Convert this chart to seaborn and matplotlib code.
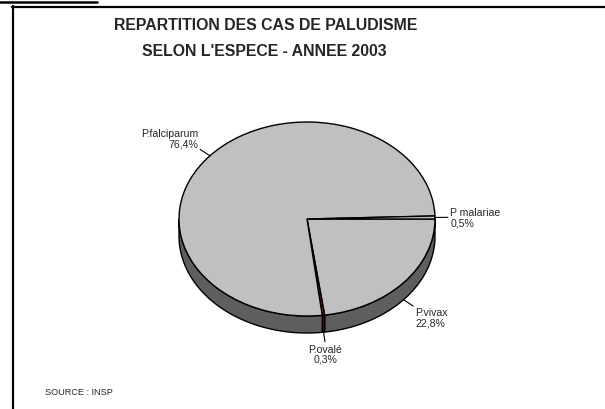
import numpy as np
import matplotlib.pyplot as plt
import seaborn as sns
from matplotlib.patches import Polygon
from matplotlib.lines import Line2D

# Data (clockwise from 3 o'clock)
species = ["P.vivax", "P.ovalé", "P.falciparum", "P malariae"]
shares = [22.8, 0.3, 76.4, 0.5]
top_colors = ["#C0C0C0", "#8A2412", "#C0C0C0", "#C0C0C0"]
side_colors = ["#5E5E5E", "#3A0C06", "#5E5E5E", "#5E5E5E"]

title_lines = ["REPARTITION DES CAS DE PALUDISME", "SELON L'ESPECE - ANNEE 2003"]
source = "SOURCE : INSP"

sns.set_style("white")
plt.rcParams["font.family"] = ["Liberation Sans", "DejaVu Sans"]

W, H = 605, 410
fig = plt.figure(figsize=(W / 100, H / 100), dpi=100)
ax = fig.add_axes([0, 0, 1, 1])

wedges, _ = ax.pie(shares, colors=top_colors, startangle=0, counterclock=False,
                   wedgeprops=dict(edgecolor="black", linewidth=1.0))

# squash the pie into a tilted ellipse
cx, cy, rx, ry = 307, 220, 128, 97
ax.set_aspect("auto")
ax.set_xlim(-cx / rx, (W - cx) / rx)
ax.set_ylim(-(H - cy) / ry, cy / ry)
ax.axis("off")

depth = 17 / ry

# side wall of the front half
for w, col in zip(wedges, side_colors):
    for k in (-360, 0, 360):
        a = max(w.theta1, -180 + k)
        b = min(w.theta2, 0 + k)
        if b <= a:
            continue
        t = np.radians(np.linspace(a, b, 80))
        upper = np.column_stack([np.cos(t), np.sin(t)])
        lower = np.column_stack([np.cos(t), np.sin(t) - depth])[::-1]
        ax.add_patch(Polygon(np.vstack([upper, lower]), closed=True,
                             facecolor=col, edgecolor="black", lw=1.0, zorder=0.5))

# labels with leader lines
for w, name, val in zip(wedges, species, shares):
    mid = np.radians((w.theta1 + w.theta2) / 2)
    c, s = np.cos(mid), np.sin(mid)
    drop = depth if s < 0 else 0
    ax.plot([c, 1.1 * c], [s - drop, 1.1 * s - drop], color="black", lw=0.8)
    ha = "center" if abs(c) < 0.3 else ("left" if c > 0 else "right")
    va = "center" if abs(s) < 0.3 else ("bottom" if s > 0 else "top")
    pct = f"{val:.1f}".replace(".", ",") + "%"
    ax.text(1.12 * c, 1.12 * s - drop, name + "\n" + pct, ha=ha, va=va,
            multialignment=ha, fontsize=7.6, linespacing=1.0)

# titles and source
fig.text(266 / W, 1 - 25 / H, title_lines[0], ha="center", va="center",
         fontsize=11.4, fontweight="bold")
fig.text(264 / W, 1 - 52 / H, title_lines[1], ha="center", va="center",
         fontsize=11.4, fontweight="bold")
fig.text(45 / W, 1 - 393 / H, source, ha="left", va="center", fontsize=6.6)

# frame lines
fig.add_artist(Line2D([12 / W, 1], [1 - 7.5 / H] * 2, color="black", lw=1.6))
fig.add_artist(Line2D([13 / W] * 2, [0, 1 - 7 / H], color="black", lw=1.6))
fig.add_artist(Line2D([0, 97 / W], [1 - 2.5 / H] * 2, color="black", lw=1.8))

fig.savefig("out.png", dpi=100)
